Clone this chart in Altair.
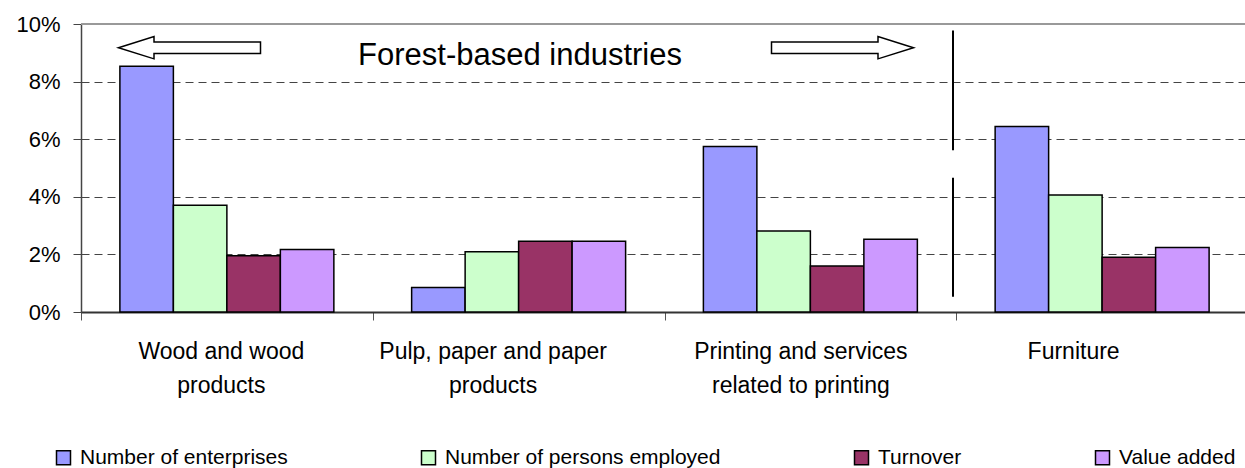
import json

import altair as alt
import pandas as pd

# Industries, in the order they appear along the x axis
industries = [
    "Wood and wood products",
    "Pulp, paper and paper products",
    "Printing and services related to printing",
    "Furniture",
]
# How each industry name wraps on the axis
label_lines = [
    ["Wood and wood", "products"],
    ["Pulp, paper and paper", "products"],
    ["Printing and services", "related to printing"],
    ["Furniture"],
]
label_shift = [-6, -26, -10, -29]

series = ["Number of enterprises", "Number of persons employed", "Turnover", "Value added"]
colors = ["#9999FF", "#CCFFCC", "#993366", "#CC99FF"]

# Shares (fractions) per industry
enterprises = [0.0853, 0.0085, 0.0575, 0.0644]
employed = [0.0371, 0.0209, 0.0281, 0.0406]
turnover = [0.0195, 0.0246, 0.0160, 0.0190]
value_added = [0.0217, 0.0246, 0.0253, 0.0224]

y_ticks = [0, 0.02, 0.04, 0.06, 0.08, 0.10]

# Broken separator between forest-based industries and furniture (in y units)
sep_top = [0.0977, 0.0466]
sep_bottom = [0.0562, 0.0053]

FONT = "Liberation Sans"

rows = []
for name, vals in zip(series, [enterprises, employed, turnover, value_added]):
    for ind, v in zip(industries, vals):
        rows.append({"industry": ind, "series": name, "value": v})
bars_df = pd.DataFrame(rows)
sep_df = pd.DataFrame({"top": sep_top, "bottom": sep_bottom})
one = pd.DataFrame({"k": [0]})

label_expr = "(" + json.dumps(dict(zip(industries, label_lines))) + ")[datum.value]"
label_offset = {
    "condition": [
        {"test": "datum.value == " + json.dumps(ind), "value": s}
        for ind, s in zip(industries, label_shift)
    ],
    "value": 0,
}

y_scale = alt.Scale(domain=[0, 0.10], nice=False)
y_axis = alt.Axis(
    title=None,
    format=".0%",
    values=y_ticks,
    grid=True,
    gridDash=[8, 5],
    gridColor="#444444",
    gridWidth=1,
    domainColor="#444444",
    domainWidth=1.5,
    tickColor="#444444",
    tickSize=8,
    labelPadding=13,
    labelFontSize=22,
    labelFont=FONT,
    labelColor="black",
)

bars = alt.Chart(bars_df).mark_bar(stroke="black", strokeWidth=1.5).encode(
    x=alt.X(
        "industry:N",
        sort=industries,
        scale=alt.Scale(paddingInner=0, paddingOuter=0, range=[0, 1167]),
        axis=alt.Axis(
            title=None,
            labelAngle=0,
            tickBand="extent",
            tickSize=8,
            tickColor="#555555",
            domainColor="#333333",
            domainWidth=2,
            labelPadding=20,
            labelBaseline="top",
            labelLineHeight=34,
            labelFontSize=23,
            labelFont=FONT,
            labelColor="black",
            labelLimit=400,
            labelExpr=label_expr,
            labelOffset=label_offset,
            grid=False,
        ),
    ),
    xOffset=alt.XOffset(
        "series:N", sort=series, scale=alt.Scale(paddingInner=0, paddingOuter=0.727)
    ),
    y=alt.Y("value:Q", scale=y_scale, axis=y_axis),
    color=alt.Color(
        "series:N",
        sort=series,
        scale=alt.Scale(domain=series, range=colors),
        legend=alt.Legend(
            title=None,
            orient="none",
            legendX=-28,
            legendY=423,
            direction="horizontal",
            symbolType="square",
            symbolSize=196,
            symbolStrokeColor="black",
            symbolStrokeWidth=1.5,
            symbolOpacity=1,
            labelFontSize=21,
            labelFont=FONT,
            labelColor="black",
            labelLimit=500,
            labelOffset=6,
            columnPadding=130,
            padding=0,
        ),
    ),
)

top_border = alt.Chart(one).mark_rule(color="#999999", strokeWidth=2).encode(
    y=alt.datum(0.10, scale=y_scale, axis=y_axis)
)

separator = alt.Chart(sep_df).mark_rule(color="black", strokeWidth=2).encode(
    x=alt.value(872),
    y=alt.Y("top:Q", scale=y_scale, axis=y_axis),
    y2="bottom:Q",
)

left_arrow_path = "M -1 0 L -0.5 -0.157 L -0.5 -0.08 L 1 -0.08 L 1 0.08 L -0.5 0.08 L -0.5 0.157 Z"
right_arrow_path = "M 1 0 L 0.5 -0.157 L 0.5 -0.08 L -1 -0.08 L -1 0.08 L 0.5 0.08 L 0.5 0.157 Z"

left_arrow = alt.Chart(one).mark_point(
    shape=left_arrow_path, size=142 * 142, filled=True, fill="white",
    stroke="black", strokeWidth=1.5, opacity=1,
).encode(x=alt.value(108.5), y=alt.value(23.7))

right_arrow = alt.Chart(one).mark_point(
    shape=right_arrow_path, size=142 * 142, filled=True, fill="white",
    stroke="black", strokeWidth=1.5, opacity=1,
).encode(x=alt.value(761.5), y=alt.value(23.7))

heading = alt.Chart(one).mark_text(
    text="Forest-based industries", font=FONT, fontSize=31, color="black",
    align="center", baseline="alphabetic",
).encode(x=alt.value(439), y=alt.value(41))

chart = alt.layer(
    bars, top_border, separator, left_arrow, right_arrow, heading
).properties(
    width=1164,
    height=288,
    padding={"left": 81, "top": 24, "right": 0, "bottom": 156},
    autosize=alt.AutoSizeParams(type="none"),
).configure(font=FONT).configure_view(stroke=None)

chart.save("out.html", embed_options={"renderer": "svg", "actions": False})
